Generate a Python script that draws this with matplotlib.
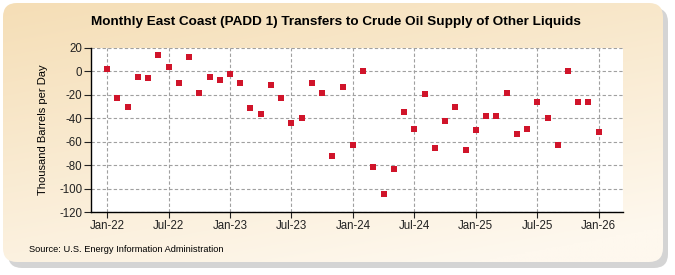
import matplotlib
matplotlib.use("Agg")
import matplotlib.pyplot as plt
import numpy as np
from matplotlib.patches import FancyBboxPatch

plt.rcParams['font.family'] = ['Liberation Sans', 'DejaVu Sans']

months = list(range(49))  # Jan-22 .. Jan-26
values = [2, -23, -30, -5, -6, 14, 4, -10, 12, -18, -5, -7,
          -2, -10, -31, -36, -12, -23, -44, -40, -10, -18, -72, -13,
          -63, 0, -82, -105, -83, -35, -49, -19, -65, -42, -30, -67,
          -50, -38, -38, -18, -53, -49, -26, -40, -63, 0, -26, -26,
          -52]
tick_pos = [0, 6, 12, 18, 24, 30, 36, 42, 48]
tick_labels = ['Jan-22', 'Jul-22', 'Jan-23', 'Jul-23', 'Jan-24', 'Jul-24',
               'Jan-25', 'Jul-25', 'Jan-26']
y_ticks = [20, 0, -20, -40, -60, -80, -100, -120]

W, H = 675, 275
fig = plt.figure(figsize=(W/100, H/100), dpi=100)
fig.patch.set_facecolor('white')

# background panel with shadow and gradient
bg = fig.add_axes([0, 0, 1, 1], zorder=-10)
bg.set_xlim(0, W); bg.set_ylim(H, 0); bg.axis('off')
shadow = FancyBboxPatch((8, 8), 660, 260, boxstyle="round,pad=0,rounding_size=14",
                        facecolor='#b8b8b8', edgecolor='none', alpha=0.6)
bg.add_patch(shadow)
panel = FancyBboxPatch((3, 3), 660, 259, boxstyle="round,pad=0,rounding_size=14",
                       facecolor='none', edgecolor='none')
bg.add_patch(panel)
yy, xx = np.mgrid[0:1:200j, 0:1:300j]
t = np.clip(0.75*yy + 0.35*xx, 0, 1)
c0 = np.array([245, 222, 182]) / 255
c1 = np.array([254, 248, 238]) / 255
img = c0[None, None, :] * (1 - t[..., None]) + c1[None, None, :] * t[..., None]
im = bg.imshow(img, extent=[3, 663, 262, 3], aspect='auto', zorder=1)
im.set_clip_path(panel)

ax = fig.add_axes([90.7/W, 1-212/H, (622.7-90.7)/W, (212-48)/H])
ax.set_facecolor('white')
ax.scatter(months, values, marker='s', s=16, color='#D0142A', zorder=3, linewidths=0)
ax.set_xlim(-1.6, 50.34)
ax.set_ylim(-120, 20)
ax.set_xticks(tick_pos)
ax.set_xticklabels(tick_labels, fontsize=8.3)
ax.set_yticks(y_ticks)
ax.set_yticklabels([str(v) for v in y_ticks], fontsize=8.3)
ax.grid(True, color='#a0a0a0', linestyle=(0, (3, 2)), linewidth=0.8)
ax.set_axisbelow(True)
for s in ['top', 'right']:
    ax.spines[s].set_visible(False)
for s in ['left', 'bottom']:
    ax.spines[s].set_color('black')
    ax.spines[s].set_linewidth(1.0)
ax.tick_params(axis='y', length=5, width=0.8, pad=1, colors='#222222')
ax.tick_params(axis='x', length=4, width=0.8, pad=2, colors='#222222')

fig.text(0.498, 1-22/H, 'Monthly East Coast (PADD 1) Transfers to Crude Oil Supply of Other Liquids',
         ha='center', va='center', fontsize=9.7, fontweight='bold')
fig.text(43/W, 1-130/H, 'Thousand Barrels per Day', rotation=90, ha='center', va='center',
         fontsize=8)
fig.text(29/W, 1-250/H, 'Source: U.S. Energy Information Administration', ha='left', va='center',
         fontsize=6.7)

fig.savefig('out.png', dpi=100)
